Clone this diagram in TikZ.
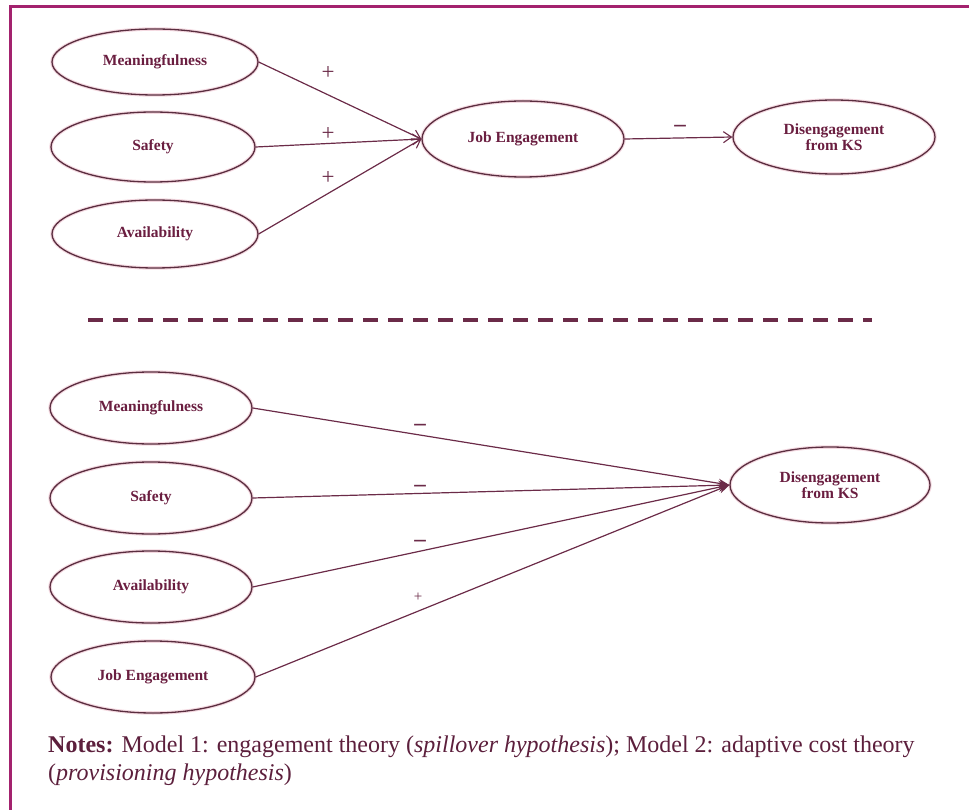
\documentclass[tikz,border=0pt]{standalone}
\usepackage{fontspec}
\setmainfont{Liberation Serif}
\usetikzlibrary{shapes.geometric,arrows.meta}
\definecolor{frameC}{HTML}{A3226E}
\definecolor{edgeC}{HTML}{5A2D3F}
\definecolor{txtC}{HTML}{6A1E40}
\definecolor{lineC}{HTML}{6B2B48}
\definecolor{haloC}{HTML}{F4D9E1}
\definecolor{noteC}{HTML}{5C1F3C}
\tikzset{
  var/.style={ellipse, draw=edgeC, line width=1.3pt, inner sep=0pt,
    preaction={draw=haloC, line width=3.5pt},
    text=txtC, align=center,
    font=\fontsize{15.5}{16.5}\selectfont\bfseries},
  openarr/.style={draw=lineC, line width=1.2pt, -{Straight Barb[length=8pt,width=11pt,line width=1.1pt]}},
  fillarr/.style={draw=lineC, line width=1.2pt, -{Stealth[length=11pt,width=9pt]}},
  sign/.style={text=lineC, inner sep=0pt, font=\fontsize{23}{23}\selectfont},
  smallsign/.style={text=lineC, inner sep=0pt, font=\fontsize{15}{15}\selectfont},
  notes/.style={text=noteC, inner sep=0pt, anchor=base west, font=\fontsize{24}{26}\selectfont}
}
\begin{document}
\begin{tikzpicture}[x=1pt,y=-1pt]
\useasboundingbox (0,0) rectangle (969,810);
% frame
\draw[frameC, line width=3pt] (10,810) -- (10,7) -- (969,7);

% Model 1
\node[var, minimum width=206pt, minimum height=66pt] (m1) at (155,62) {Meaningfulness};
\node[var, minimum width=204pt, minimum height=70pt] (s1) at (153,147) {Safety};
\node[var, minimum width=206pt, minimum height=68pt] (a1) at (155,234) {Availability};
\node[var, minimum width=202pt, minimum height=76pt] (je1) at (523,139) {Job Engagement};
\node[var, minimum width=202pt, minimum height=74pt] (d1) at (834,137) {Disengagement\\from KS};

\draw[openarr] (m1.east) -- (je1.west);
\draw[openarr] (s1.east) -- (je1.west);
\draw[openarr] (a1.east) -- (je1.west);
\draw[openarr] (je1.east) -- (d1.west);

\node[sign] (p1) at (328,73) {+};
\node[sign] (p2) at (328,134) {+};
\node[sign] (p3) at (328,178) {+};
\node[sign] (n1) at (680,128) {\bfseries --};

% separator
\coordinate (sepL) at (88,320);
\coordinate (sepR) at (872,320);
\draw[lineC, line width=4pt, dash pattern=on 15pt off 10pt] (sepL) -- (sepR);

% Model 2
\node[var, minimum width=202pt, minimum height=72pt] (m2) at (151,408) {Meaningfulness};
\node[var, minimum width=202pt, minimum height=72pt] (s2) at (151,498) {Safety};
\node[var, minimum width=202pt, minimum height=72pt] (a2) at (151,587) {Availability};
\node[var, minimum width=204pt, minimum height=72pt] (je2) at (153,677) {Job Engagement};
\node[var, minimum width=200pt, minimum height=76pt] (d2) at (830,485) {Disengagement\\from KS};

\draw[fillarr] (m2.east) -- (d2.west);
\draw[fillarr] (s2.east) -- (d2.west);
\draw[fillarr] (a2.east) -- (d2.west);
\draw[fillarr] (je2.east) -- (d2.west);

\node[sign] (q1) at (420,427) {\bfseries --};
\node[sign] (q2) at (420,488) {\bfseries --};
\node[sign] (q3) at (420,543) {\bfseries --};
\node[smallsign] (q4) at (418,597) {+};

% notes
\node[notes] (note1) at (48,752) {\textbf{Notes:} Model 1: engagement theory (\textit{spillover hypothesis}); Model 2: adaptive cost theory};
\node[notes] (note2) at (48,780) {(\textit{provisioning hypothesis})};
\end{tikzpicture}
\end{document}
